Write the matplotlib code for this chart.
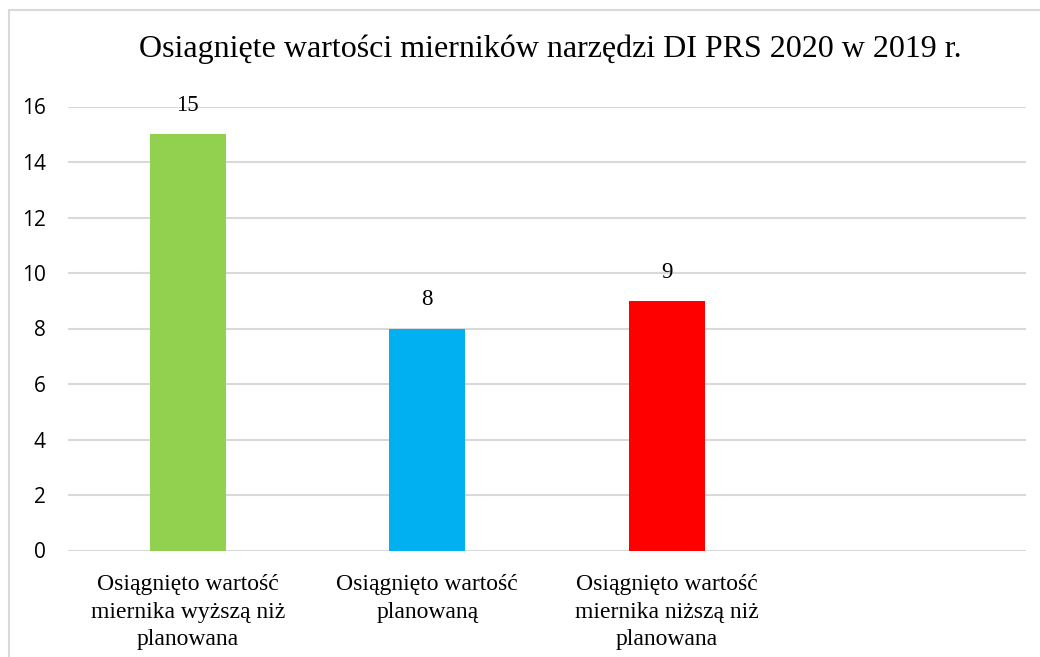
import matplotlib.pyplot as plt
from matplotlib.patches import Rectangle

categories = [
    "Osiągnięto wartość\nmiernika wyższą niż\nplanowana",
    "Osiągnięto wartość\nplanowaną",
    "Osiągnięto wartość\nmiernika niższą niż\nplanowana",
    "",
]
values = [15, 8, 9, None]
colors = ["#92D050", "#00B0F0", "#FF0000", "none"]
yticks = [0, 2, 4, 6, 8, 10, 12, 14, 16]

fig = plt.figure(figsize=(10.4, 6.57), dpi=100)
ax = fig.add_axes([68 / 1040, 106.5 / 657, 958 / 1040, 444 / 657])

xs = list(range(len(categories)))
for x, v, c in zip(xs, values, colors):
    if v is None:
        continue
    ax.bar(x, v, width=0.318, color=c, zorder=3)
    ax.annotate(str(v), (x, v), xytext=(0, 13), textcoords="offset points",
                ha="center", va="bottom", fontsize=16.5, family="Liberation Serif")

ax.set_xlim(-0.5, len(categories) - 0.5)
ax.set_ylim(0, 16)
ax.set_yticks(yticks)
ax.set_yticklabels([str(t) for t in yticks], fontsize=15, family="Open Sans")
ax.set_xticks(xs)
ax.set_xticklabels(categories, fontsize=17, family="Liberation Serif", linespacing=1.4)
ax.tick_params(axis="both", length=0)
ax.tick_params(axis="y", pad=16)
ax.tick_params(axis="x", pad=17)
ax.grid(axis="y", color="#d9d9d9", linewidth=1.5, zorder=0)
for s in ax.spines.values():
    s.set_visible(False)

fig.text(550 / 1040, 1 - 49 / 657, "Osiagnięte wartości mierników narzędzi DI PRS 2020 w 2019 r.",
         ha="center", va="center", fontsize=23, family="Liberation Serif")

fig.patches.append(Rectangle((9 / 1040, -0.05), 1.1, 0.05 + (657 - 10) / 657,
                             transform=fig.transFigure, fill=False,
                             edgecolor="#d9d9d9", linewidth=1.5))

fig.savefig("out.png", dpi=100)
